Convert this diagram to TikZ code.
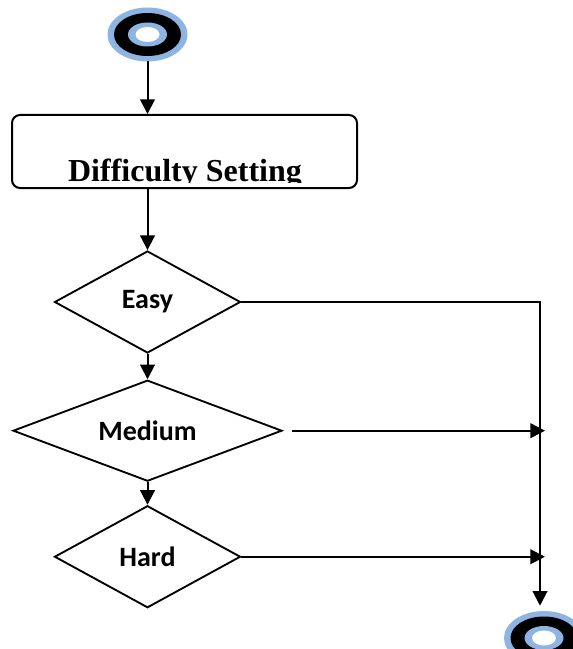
\documentclass[tikz,border=0pt]{standalone}
\usepackage{fontspec}
\setmainfont{Liberation Serif}
\newfontfamily\decfont{Carlito}
\usetikzlibrary{arrows.meta, positioning, shapes.geometric}
\definecolor{ring}{HTML}{8EB4E3}

\begin{document}
\begin{tikzpicture}[x=0.75pt, y=-0.75pt, >={Triangle[length=11pt, width=11pt]},
    flow/.style={draw=black, line width=1.5pt},
    dec/.style={diamond, aspect=2.6, draw=black, line width=1.4pt, inner sep=0pt, minimum width=139.5pt, minimum height=76.5pt, font=\decfont\bfseries\fontsize{21}{25}\selectfont},
    term/.style={ellipse, inner sep=0pt, minimum width=60pt, minimum height=40pt}]
  \useasboundingbox[fill=white] (0,0) rectangle (573,649);

  \node[term] (start) at (147.5,34.5) {};
  \node[term] (end) at (544,638) {};
  \foreach \t in {start,end} {
    \fill[ring] (\t.center) ellipse [x radius=40, y radius=27];
    \fill[black] (\t.center) ellipse [x radius=33.5, y radius=21.5];
    \fill[ring] (\t.center) ellipse [x radius=19.5, y radius=12];
    \fill[white] (\t.center) ellipse [x radius=12, y radius=7.5];
  }

  \node[draw, line width=1.5pt, rounded corners=6pt, minimum width=258.75pt, minimum height=54.75pt] (setting) at (184.5,151.5) {};
  \begin{scope}
    \clip (12,115) rectangle (357,182.5);
    \node[anchor=base, inner sep=0pt, font=\bfseries\fontsize{24}{28}\selectfont] (label) at (185,181) {Difficulty Setting};
  \end{scope}

  \node[dec] (easy) at (147.5,302) {Easy};
  \node[dec, minimum width=201.75pt, minimum height=75.75pt, below=19pt of easy] (medium) {Medium};
  \node[dec, below=17pt of medium] (hard) {Hard};

  \coordinate (turn) at (540,302);
  \coordinate (hit) at (545,0);

  \draw[flow, ->] (start) -- (start |- setting.north);
  \draw[flow, ->] (setting.south -| start) -- (easy);
  \draw[flow, ->] (easy) -- (medium);
  \draw[flow, ->] (medium) -- (hard);
  \draw[flow, ->, shorten >=4pt] (easy.east) -- (turn) -- (turn |- end.north);
  \draw[flow, ->, shorten <=6.75pt] (medium.east) -- (medium.east -| hit);
  \draw[flow, ->] (hard.east) -- (hard.east -| hit);
\end{tikzpicture}
\end{document}
